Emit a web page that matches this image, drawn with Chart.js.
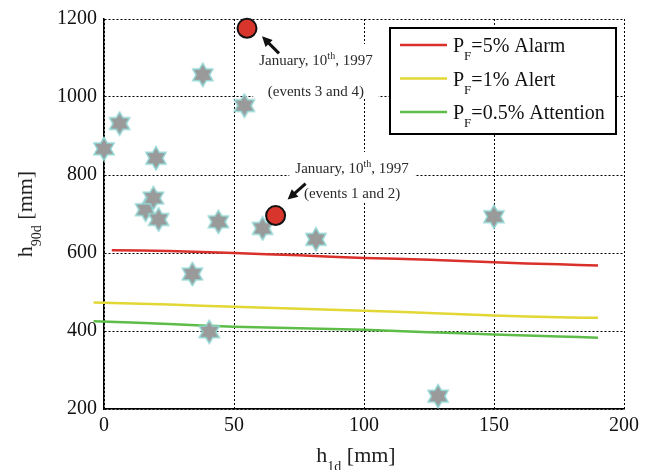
<!DOCTYPE html>
<html>
<head>
<meta charset="utf-8">
<script src="https://cdn.jsdelivr.net/npm/chart.js@4.4.1/dist/chart.umd.min.js"></script>
<style>
  html, body { margin: 0; padding: 0; background: #fff; }
  #wrap { width: 649px; height: 470px; }
</style>
</head>
<body>
<div id="wrap"><canvas id="chart"></canvas></div>
<script>
// Data

// Observed events (grey stars)
const starX = [0, 6, 20, 38, 54, 16, 19, 21, 44, 61, 81.5, 34, 40.5, 150, 128.5];
const starY = [867, 932, 843, 1057, 978, 711, 741, 686, 680, 663, 635, 546, 398, 693, 233];

// January 10th, 1997 events (red circles)
const eventX = [55, 66];
const eventY = [1176, 696];

// Threshold curves
const alarmX = [3, 25, 50, 75, 100, 125, 150, 175, 190];
const alarmY = [607, 605, 600, 594, 587, 583, 576, 571, 568];
const lowX = [-4, 25, 50, 75, 100, 125, 150, 175, 190];
const alertY = [473, 468, 462, 457, 452, 446, 440, 435, 434];
const attentionY = [425, 418, 411, 407, 403, 397, 391, 386, 383];

// Axis ticks
const xTicks = [0, 50, 100, 150, 200];
const yTicks = [200, 400, 600, 800, 1000, 1200];

const serif = "'Liberation Serif', 'Times New Roman', serif";

// helper: zip two arrays into {x, y}
function pts(xs, ys) {
    return xs.map((x, i) => ({ x: x, y: ys[i] }));
}

// six pointed star used as point style
function makeStar() {
    const c = document.createElement('canvas');
    c.width = 26; c.height = 26;
    const g = c.getContext('2d');
    const R = 11.5, r = R / Math.sqrt(3);
    g.beginPath();
    for (let i = 0; i < 12; i++) {
        const ang = -Math.PI / 2 + i * Math.PI / 6;
        const rad = i % 2 === 0 ? R : r;
        const px = 13 + rad * Math.cos(ang), py = 13 + rad * Math.sin(ang);
        if (i === 0) g.moveTo(px, py); else g.lineTo(px, py);
    }
    g.closePath();
    g.fillStyle = '#9a9a9a';
    g.fill();
    g.lineWidth = 1.5;
    g.strokeStyle = '#8fd4d2';
    g.stroke();
    return c;
}

// draw text made of parts with optional sub/superscripts
function drawParts(ctx, parts, x, y, size, align) {
    const small = Math.round(size * 0.65);
    let total = 0;
    parts.forEach(p => {
        ctx.font = (p.s ? small : size) + 'px ' + serif;
        p.w = ctx.measureText(p.t).width;
        total += p.w;
    });
    let cx = align === 'center' ? x - total / 2 : x;
    ctx.textAlign = 'left';
    ctx.textBaseline = 'alphabetic';
    parts.forEach(p => {
        ctx.font = (p.s ? small : size) + 'px ' + serif;
        let dy = 0;
        if (p.s === 'sub') dy = size * 0.4;
        if (p.s === 'sup') dy = -size * 0.4;
        ctx.fillText(p.t, cx, y + dy);
        cx += p.w;
    });
    return total;
}

function partsWidth(ctx, parts, size) {
    const small = Math.round(size * 0.65);
    let total = 0;
    parts.forEach(p => {
        ctx.font = (p.s ? small : size) + 'px ' + serif;
        total += ctx.measureText(p.t).width;
    });
    return total;
}

// annotation texts, anchored in data units
const notes = [
    { x: 81.5, y1: 1095, y2: 1016, event: 0, head: [15, 8], tail: [32, 25],
      line2: '(events 3 and 4)' },
    { x: 95.4, y1: 818, y2: 754, event: 1, head: [12, -16], tail: [30, -32],
      line2: '(events 1 and 2)' }
];

const notesPlugin = {
    id: 'notes',
    beforeDatasetsDraw(chart) {
        const ctx = chart.ctx;
        const xs = chart.scales.x, ys = chart.scales.y;
        const size = 15;
        notes.forEach(n => {
            const line1 = [{ t: 'January, 10' }, { t: 'th', s: 'sup' }, { t: ', 1997' }];
            const line2 = [{ t: n.line2 }];
            const cx = xs.getPixelForValue(n.x);
            const yA = ys.getPixelForValue(n.y1);
            const yB = ys.getPixelForValue(n.y2);
            ctx.save();
            const w = Math.max(partsWidth(ctx, line1, size), partsWidth(ctx, line2, size));
            ctx.fillStyle = '#ffffff';
            ctx.fillRect(cx - w / 2 - 6, yA - 16, w + 12, yB - yA + 24);
            ctx.fillStyle = '#2a2a2a';
            drawParts(ctx, line1, cx, yA + 5, size, 'center');
            drawParts(ctx, line2, cx, yB + 5, size, 'center');

            // arrow pointing to the event
            const ex = xs.getPixelForValue(eventX[n.event]);
            const ey = ys.getPixelForValue(eventY[n.event]);
            const hx = ex + n.head[0], hy = ey + n.head[1];
            const tx = ex + n.tail[0], ty = ey + n.tail[1];
            const ang = Math.atan2(hy - ty, hx - tx);
            ctx.strokeStyle = '#111';
            ctx.fillStyle = '#111';
            ctx.lineWidth = 3;
            ctx.beginPath();
            ctx.moveTo(tx, ty);
            ctx.lineTo(hx - 6 * Math.cos(ang), hy - 6 * Math.sin(ang));
            ctx.stroke();
            ctx.beginPath();
            ctx.moveTo(hx, hy);
            ctx.lineTo(hx - 10 * Math.cos(ang) + 5 * Math.sin(ang), hy - 10 * Math.sin(ang) - 5 * Math.cos(ang));
            ctx.lineTo(hx - 10 * Math.cos(ang) - 5 * Math.sin(ang), hy - 10 * Math.sin(ang) + 5 * Math.cos(ang));
            ctx.closePath();
            ctx.fill();
            ctx.restore();
        });
    }
};

const legendPlugin = {
    id: 'boxLegend',
    afterDatasetsDraw(chart) {
        const ctx = chart.ctx;
        const a = chart.chartArea;
        const w = 226, h = 106;
        const x0 = a.right - 8 - w, y0 = a.top + 9;
        ctx.save();
        ctx.fillStyle = '#fff';
        ctx.fillRect(x0, y0, w, h);
        ctx.strokeStyle = '#000';
        ctx.lineWidth = 2;
        ctx.strokeRect(x0, y0, w, h);
        const items = chart.data.datasets.filter(d => d.type === 'line');
        items.forEach((d, i) => {
            const ly = y0 + 17 + i * 33.5;
            ctx.strokeStyle = d.borderColor;
            ctx.lineWidth = 2.5;
            ctx.beginPath();
            ctx.moveTo(x0 + 10, ly);
            ctx.lineTo(x0 + 57, ly);
            ctx.stroke();
            ctx.fillStyle = '#111';
            drawParts(ctx, [{ t: 'P' }, { t: 'F', s: 'sub' }, { t: d.label.slice(2) }],
                x0 + 63, ly + 7, 20, 'left');
        });
        ctx.restore();
    }
};

const titlePlugin = {
    id: 'axisTitles',
    afterDraw(chart) {
        const ctx = chart.ctx;
        const a = chart.chartArea;
        ctx.save();
        ctx.fillStyle = '#222';
        drawParts(ctx, [{ t: 'h' }, { t: '1d', s: 'sub' }, { t: ' [mm]' }],
            (a.left + a.right) / 2 - 8, 462, 22, 'center');
        ctx.translate(32, (a.top + a.bottom) / 2);
        ctx.rotate(-Math.PI / 2);
        drawParts(ctx, [{ t: 'h' }, { t: '90d', s: 'sub' }, { t: ' [mm]' }], 0, 0, 22, 'center');
        ctx.restore();
    }
};

const starImg = makeStar();

const gridCfg = { color: '#000', lineWidth: 1, drawTicks: false };
const borderCfg = { display: true, color: '#000', width: 1.5, dash: [2, 2] };

new Chart(document.getElementById('chart'), {
    data: {
        datasets: [
            {
                type: 'scatter', label: 'Jan 10 1997', order: 0,
                data: pts(eventX, eventY),
                pointRadius: 9.5, pointHoverRadius: 9.5,
                backgroundColor: '#d8362c', borderColor: '#111', borderWidth: 2,
                clip: false
            },
            {
                type: 'scatter', label: 'events', order: 1,
                data: pts(starX, starY),
                pointStyle: starImg, pointRadius: 12,
                clip: false
            },
            {
                type: 'line', label: 'PF=5% Alarm', order: 2,
                data: pts(alarmX, alarmY),
                borderColor: '#d9302a', borderWidth: 2.5, pointRadius: 0,
                tension: 0.3, clip: false
            },
            {
                type: 'line', label: 'PF=1% Alert', order: 2,
                data: pts(lowX, alertY),
                borderColor: '#e2d835', borderWidth: 2.5, pointRadius: 0,
                tension: 0.3, clip: false
            },
            {
                type: 'line', label: 'PF=0.5% Attention', order: 2,
                data: pts(lowX, attentionY),
                borderColor: '#5dbd48', borderWidth: 2.5, pointRadius: 0,
                tension: 0.3, clip: false
            }
        ]
    },
    options: {
        responsive: true,
        maintainAspectRatio: false,
        animation: false,
        layout: { padding: { left: 0, top: 16, right: 25, bottom: 0 } },
        plugins: {
            legend: { display: false },
            tooltip: { enabled: false }
        },
        scales: {
            x: {
                type: 'linear', min: 0, max: 200,
                afterFit: s => { s.height = 61; },
                afterBuildTicks: s => { s.ticks = xTicks.map(v => ({ value: v })); },
                grid: gridCfg,
                border: borderCfg,
                ticks: { color: '#111', padding: 5, font: { family: serif, size: 20 },
                         callback: v => String(v) }
            },
            y: {
                type: 'linear', min: 200, max: 1200,
                afterFit: s => { s.width = 104; },
                afterBuildTicks: s => { s.ticks = yTicks.map(v => ({ value: v })); },
                grid: gridCfg,
                border: borderCfg,
                ticks: { color: '#111', padding: 7, font: { family: serif, size: 20 },
                         callback: v => String(v) }
            }
        }
    },
    plugins: [notesPlugin, legendPlugin, titlePlugin]
});
</script>
</body>
</html>
